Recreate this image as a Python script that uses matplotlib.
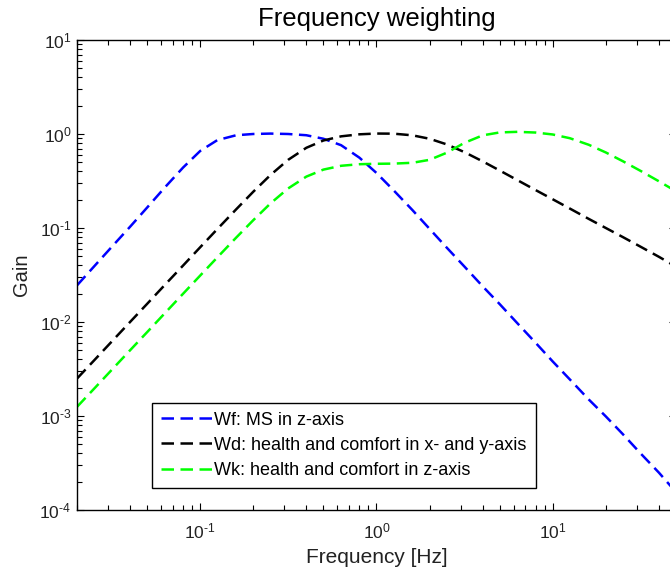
import matplotlib
matplotlib.use("Agg")
import matplotlib.pyplot as plt
from matplotlib.ticker import FuncFormatter
import math

# Third-octave band centre frequencies [Hz]
freq = [0.02, 0.025, 0.0315, 0.04, 0.05, 0.063, 0.08, 0.1, 0.125, 0.16,
        0.2, 0.25, 0.315, 0.4, 0.5, 0.63, 0.8, 1.0, 1.25, 1.6,
        2.0, 2.5, 3.15, 4.0, 5.0, 6.3, 8.0, 10.0, 12.5, 16.0,
        20.0, 25.0, 31.5, 40.0, 50.0]

# Wf: motion sickness, z-axis
gain_wf = [0.0245, 0.039, 0.063, 0.103, 0.165, 0.27, 0.44, 0.66, 0.86, 0.97,
           1.0, 1.01, 1.0, 0.97, 0.89, 0.76, 0.56, 0.385, 0.252, 0.155,
           0.098, 0.062, 0.039, 0.024, 0.0155, 0.0097, 0.0060, 0.0038, 0.00245, 0.0015,
           0.00099, 0.00064, 0.00040, 0.00025, 0.000155]

# Wd: health and comfort, x- and y-axis
gain_wd = [0.0025, 0.0039, 0.0062, 0.0100, 0.0156, 0.0248, 0.0399, 0.0624, 0.0973, 0.158,
           0.243, 0.365, 0.530, 0.713, 0.853, 0.944, 0.992, 1.011, 1.008, 0.968,
           0.890, 0.776, 0.642, 0.512, 0.409, 0.323, 0.253, 0.202, 0.161, 0.125,
           0.100, 0.080, 0.0632, 0.0494, 0.0388]

# Wk: health and comfort, z-axis
gain_wk = [0.00125, 0.00195, 0.0031, 0.0050, 0.0078, 0.0124, 0.0200, 0.0312, 0.0486, 0.079,
           0.121, 0.182, 0.263, 0.352, 0.418, 0.459, 0.477, 0.482, 0.484, 0.494,
           0.531, 0.631, 0.804, 0.967, 1.039, 1.054, 1.036, 0.988, 0.902, 0.768,
           0.636, 0.513, 0.405, 0.314, 0.246]

labels = ["Wf: MS in z-axis",
          "Wd: health and comfort in x- and y-axis",
          "Wk: health and comfort in z-axis"]

plt.rcParams["font.family"] = ["Liberation Sans", "DejaVu Sans"]
plt.rcParams["mathtext.fontset"] = "custom"
plt.rcParams["mathtext.rm"] = "Liberation Sans"
plt.rcParams["mathtext.it"] = "Liberation Sans"
plt.rcParams["mathtext.default"] = "regular"

fig = plt.figure(figsize=(6.70, 5.77), dpi=100)
ax = fig.add_axes([0.1149, 0.1161, 0.894, 0.8146])

dash = (0, (5, 2.6))
lw = 1.8
ax.loglog(freq, gain_wf, color=(0, 0, 1), lw=lw, linestyle=dash, label=labels[0])
ax.loglog(freq, gain_wd, color="black", lw=lw, linestyle=dash, label=labels[1])
ax.loglog(freq, gain_wk, color=(0, 1, 0), lw=lw, linestyle=dash, label=labels[2])

ax.set_xlim(0.02, 50)
ax.set_ylim(1e-4, 10)


def decade_label(v, pos):
    e = int(round(math.log10(v)))
    if e < 0:
        return r"$10^{\text{-}%d}$" % (-e)
    return r"$10^{%d}$" % e


ax.xaxis.set_major_formatter(FuncFormatter(decade_label))
ax.yaxis.set_major_formatter(FuncFormatter(decade_label))

ax.tick_params(which="both", direction="in", top=True, right=True,
               width=0.8, color="black")
ax.tick_params(which="major", length=5, labelsize=12.5, labelcolor="#222222")
ax.tick_params(axis="x", which="major", pad=8)
ax.tick_params(axis="y", which="major", pad=4)
ax.tick_params(which="minor", length=3.5)
for s in ax.spines.values():
    s.set_linewidth(1.0)

ax.set_title("Frequency weighting", fontsize=18.5, pad=10)
ax.set_xlabel("Frequency [Hz]", fontsize=15, color="#222222", labelpad=5)
ax.set_ylabel("Gain", fontsize=14.5, color="#222222", labelpad=6)

leg = ax.legend(loc="lower left", bbox_to_anchor=(0.125, 0.047),
                borderaxespad=0, fancybox=False, framealpha=1,
                edgecolor="black", fontsize=13, handlelength=2.85,
                handletextpad=0.1, labelspacing=0.45, borderpad=0.5)
leg.get_frame().set_linewidth(1.0)

fig.savefig("out.png", dpi=100, facecolor="white")
